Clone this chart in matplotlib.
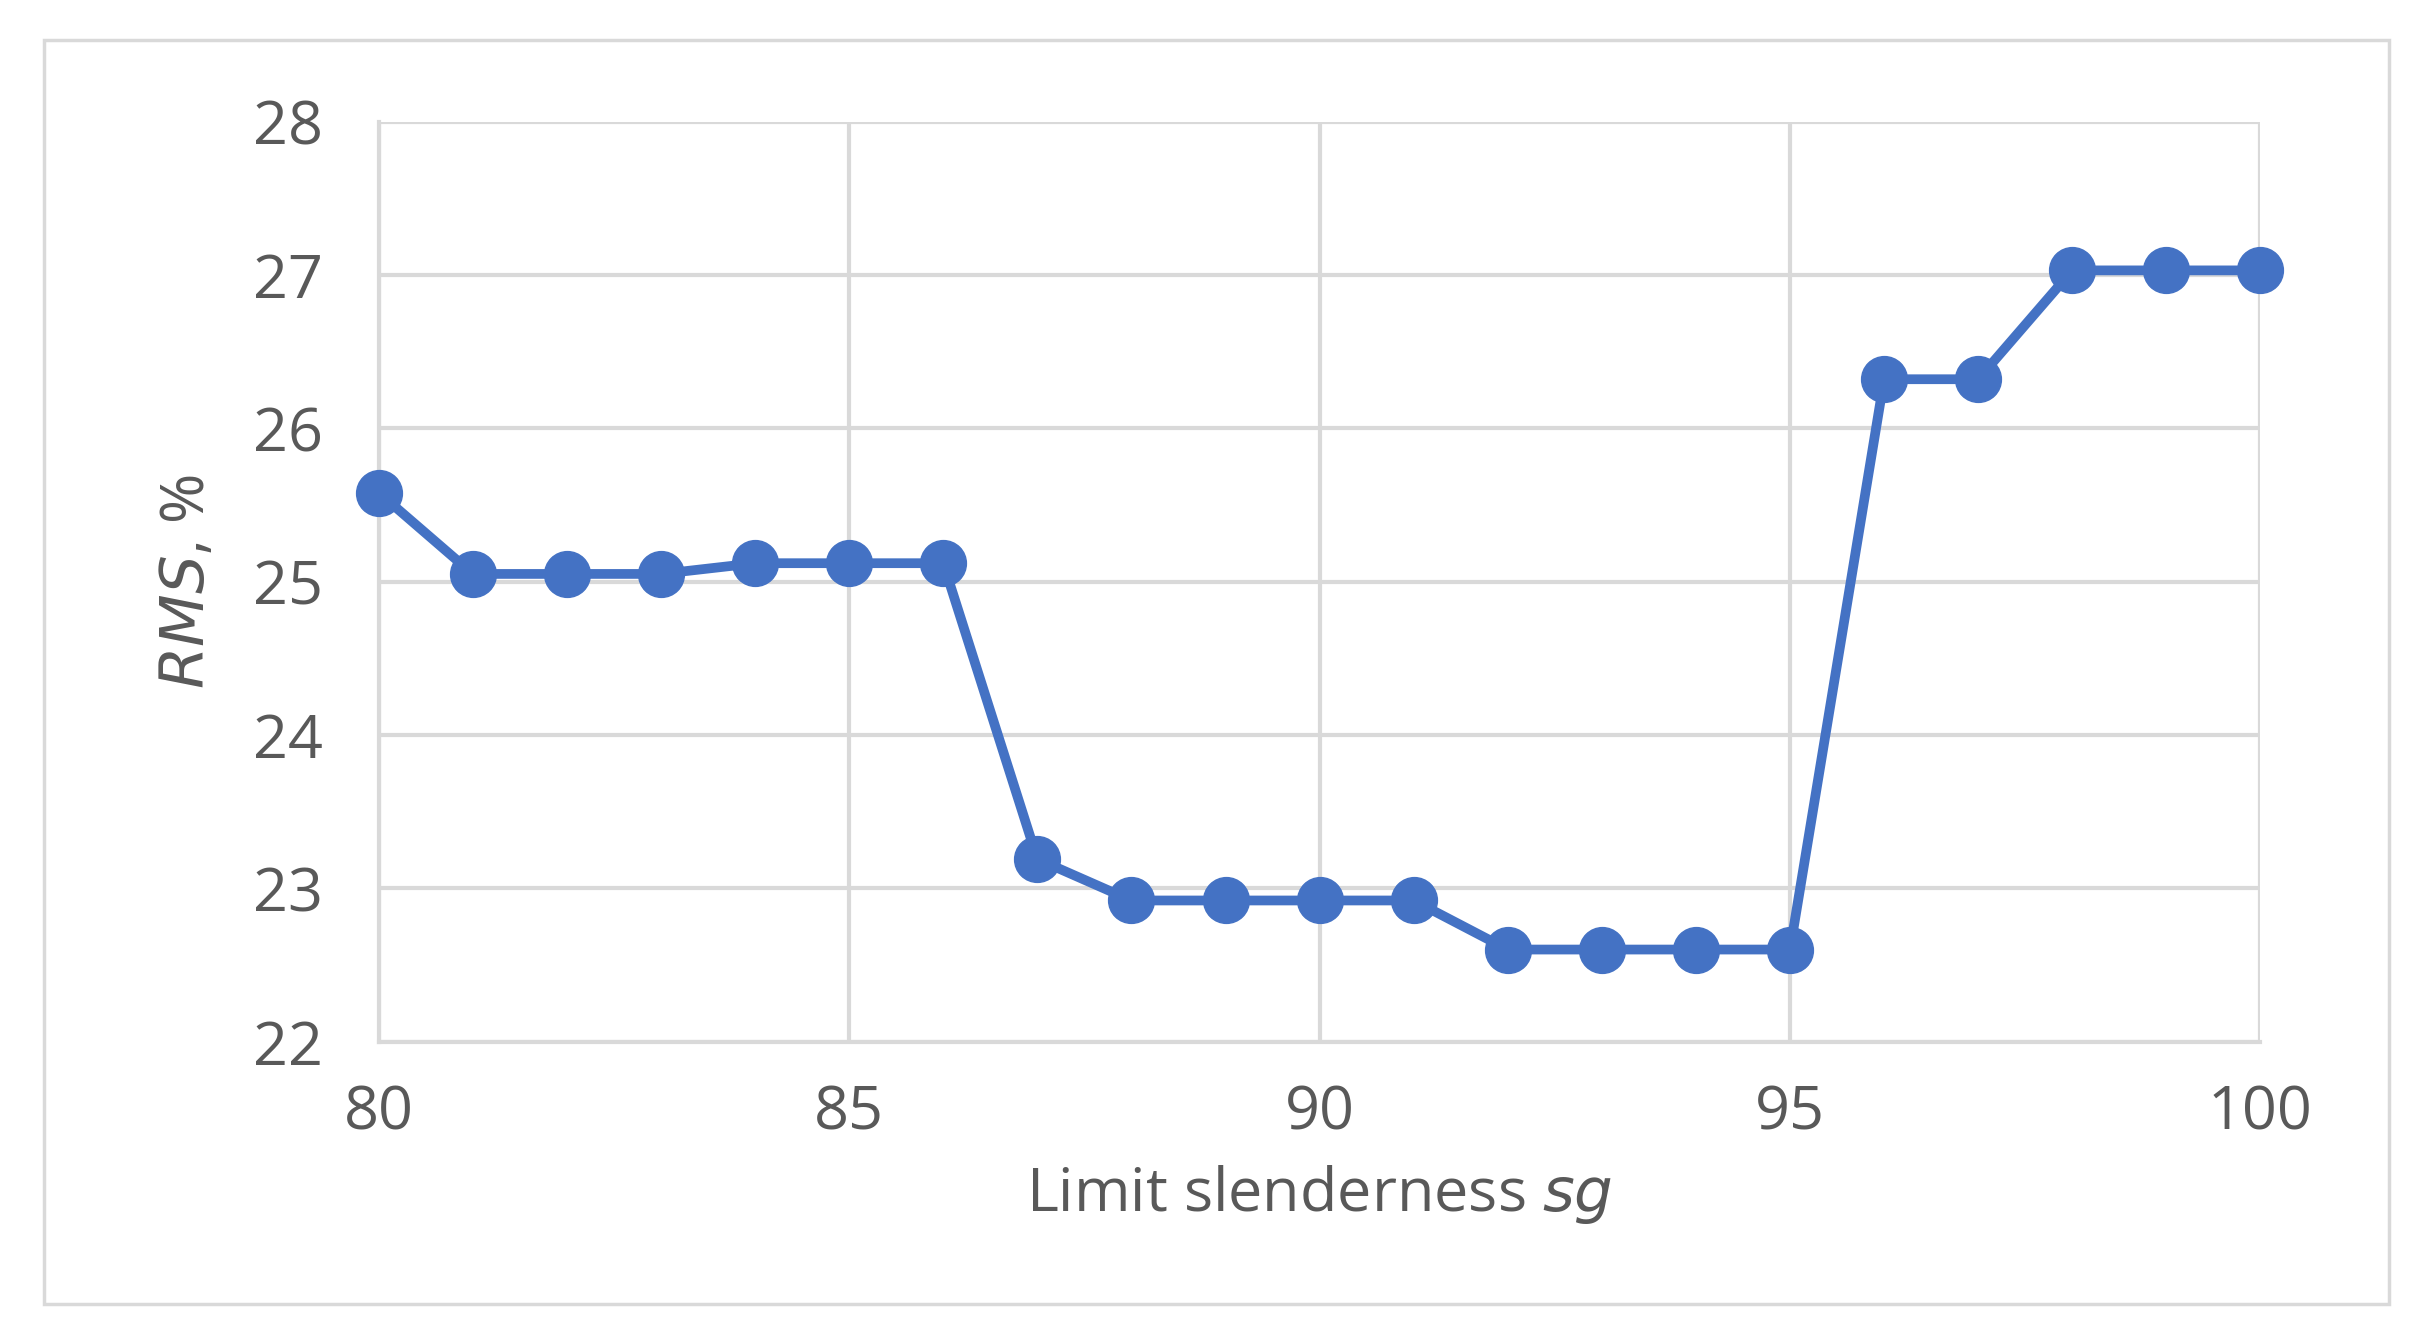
import matplotlib
matplotlib.use("Agg")
import matplotlib.pyplot as plt
from matplotlib.patches import Rectangle

sg = list(range(80, 101))
rms = [25.58, 25.05, 25.05, 25.05, 25.12, 25.12, 25.12, 23.19, 22.92, 22.92, 22.92,
       22.92, 22.60, 22.60, 22.60, 22.60, 26.32, 26.32, 27.03, 27.03, 27.03]

plt.rcParams['font.family'] = ['Open Sans', 'DejaVu Sans']
txt = '#595959'

fig = plt.figure(figsize=(24.28, 13.37), dpi=100)
fig.patches.append(Rectangle((0.018, 0.025), 0.966, 0.945, transform=fig.transFigure,
                             fill=False, edgecolor='#d9d9d9', linewidth=2.5))
ax = fig.add_axes([0.156, 0.221, 0.775, 0.688])
ax.plot(sg, rms, color='#4472C4', linewidth=7, marker='o', markersize=33, zorder=3,
        clip_on=False)
ax.set_xlim(80, 100)
ax.set_ylim(22, 28)
ax.set_xticks([80, 85, 90, 95, 100])
ax.set_yticks(range(22, 29))
ax.grid(True, color='#d9d9d9', linewidth=3)
for s in ['top', 'right']:
    ax.spines[s].set_visible(False)
for s in ['left', 'bottom']:
    ax.spines[s].set_color('#d9d9d9')
    ax.spines[s].set_linewidth(3)
ax.tick_params(length=0, labelsize=44, colors=txt, pad=30)
ax.tick_params(axis='y', pad=40)
ax.set_xlabel('Limit slenderness $\\mathit{sg}$', fontsize=44, color=txt, labelpad=14)
ax.set_ylabel('$\\mathit{RMS}$, %', fontsize=44, color=txt, labelpad=25)
fig.savefig('out.png', dpi=100)
